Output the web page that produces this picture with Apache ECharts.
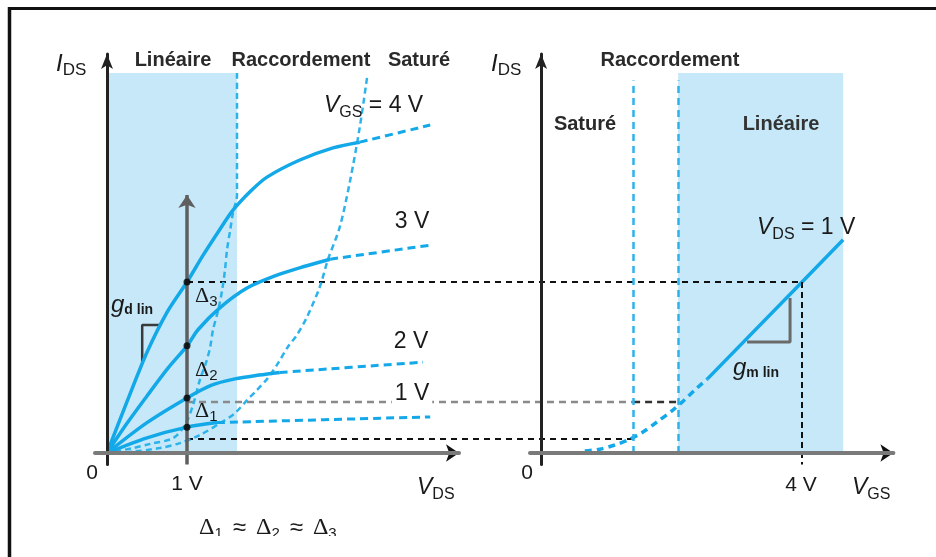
<!DOCTYPE html>
<html>
<head>
<meta charset="utf-8">
<script src="https://cdn.jsdelivr.net/npm/echarts@6/dist/echarts.min.js"></script>
<style>html,body{margin:0;padding:0;background:#fff}#c{width:936px;height:557px}</style>
</head>
<body>
<div id="c"></div>
<script>
// ---- Output characteristics I_DS(V_DS), one curve per V_GS (V, arbitrary current units)
const vgs4Ohmic = [[0,0],[0.25,1.35],[0.5,2.65],[0.75,3.7],[1,4.5],[1.2,5.2],[1.4,5.85],[1.575,6.39],[1.8,6.9],[2.0,7.26],[2.41,7.71],[2.825,8.03],[3.16,8.18]];
const vgs4Sat   = [[3.16,8.18],[4.04,8.63]];
const vgs3Ohmic = [[0,0],[0.25,0.78],[0.5,1.5],[0.75,2.2],[1,2.82],[1.14,3.25],[1.41,3.82],[1.75,4.34],[2.125,4.68],[2.45,4.9],[2.79,5.1]];
const vgs3Sat   = [[2.79,5.1],[4.04,5.47]];
const vgs2Ohmic = [[0,0],[0.5,0.8],[1,1.45],[1.3,1.78],[1.6,1.95],[1.9,2.05],[2.16,2.12]];
const vgs2Sat   = [[2.16,2.12],[3.95,2.39]];
const vgs1Ohmic = [[0,0],[0.5,0.4],[1,0.68],[1.375,0.8]];
const vgs1Sat   = [[1.375,0.8],[4.04,0.95]];

// Boundary loci between the regions
const ohmicLocus = [[1.625,10],[1.625,6.79],[1.575,6.32],[1.54,5.87],[1.5,5.34],[1.475,4.82],[1.44,4.29],[1.39,3.76],[1.325,3.24],[1.29,2.79],[1.24,2.39],[1.16,1.92],[1.075,1.26],[0.975,0.74],[0.825,0.39],[0.54,0.24],[0.325,0.13],[0,0]];
const satLocus   = [[3.25,9.87],[3.16,8.58],[3.04,7.18],[2.91,5.95],[2.76,5.08],[2.66,4.37],[2.5,3.58],[2.375,3.11],[2.26,2.79],[2.14,2.37],[2.01,1.97],[1.875,1.66],[1.75,1.39],[1.6,1.05],[1.44,0.82],[1.16,0.47],[0.91,0.26],[0.66,0.13],[0.29,0.03],[0,0]];

// Currents read at V_DS = 1 V
const dotsAt1V = [4.5, 2.82, 1.45, 0.68];

// ---- Transfer characteristic I_DS(V_GS) at V_DS = 1 V
const transferSub = [[0.67,0.05],[0.9,0.1],[1.13,0.21],[1.33,0.34],[1.56,0.55],[1.78,0.82],[2.02,1.13],[2.18,1.37],[2.39,1.71],[2.55,1.95]];
const transferLin = [[2.55,1.95],[4.0,4.5],[4.63,5.61]];

// Region limits and reference levels
const ohmicEdge = 1.625;        // V_DS
const satEdge = 1.41;           // V_GS
const linEdge = 2.10;           // V_GS
const linEnd = 4.63;            // V_GS
const zoneTop = 10;
const levelTop = 4.5, levelMid = 1.34, levelLow = 0.37;

const BLUE = '#13a9e9';
const LOCUS = '#2db3ec';
const SHADE = '#c6e8f8';
const FONT = '"Liberation Sans", Arial, Helvetica, sans-serif';
const SERIF = '"Liberation Serif", "Times New Roman", serif';

function axis(min, max, grid, extra) {
  return Object.assign({
    type: 'value', gridIndex: grid, min, max, z: 5,
    axisTick: {show: false}, axisLabel: {show: false}, splitLine: {show: false}
  }, extra);
}
const xLine = {onZero: true, lineStyle: {color: '#7a7a7a', width: 4}};
const yLine = {onZero: true, symbol: ['none', 'arrow'], symbolSize: [9, 15], lineStyle: {color: '#222', width: 3}};

function curve(data, dashed, g, color, width, dash) {
  return {
    type: 'line', xAxisIndex: g, yAxisIndex: g, data, symbol: 'none', showSymbol: false,
    smooth: 0.3, z: 4, silent: true, animation: false,
    lineStyle: {color: color || BLUE, width: width || (dashed ? 3 : 3.5), type: dashed ? (dash || [8, 5]) : 'solid'}
  };
}
function ml(data, color, width, type, symbol, z) {
  return {
    type: 'line', xAxisIndex: data.g, yAxisIndex: data.g, data: [], z: z || 3, silent: true,
    markLine: {
      silent: true, animation: false, symbol: symbol || ['none', 'none'], symbolSize: 13,
      label: {show: false}, emphasis: {disabled: true},
      lineStyle: {color, width, type, opacity: 1},
      data: data.lines.map(l => [{coord: l[0]}, {coord: l[1]}])
    }
  };
}

const option = {
  animation: false,
  backgroundColor: '#fff',
  grid: [
    {left: 95, top: 54, width: 364, height: 410.4},
    {left: 530, top: 54, width: 363.4, height: 410.4}
  ],
  xAxis: [axis(-0.15, 4.4, 0, {axisLine: xLine}), axis(-0.17, 5.4, 1, {axisLine: xLine})],
  yAxis: [axis(-0.3, 10.5, 0, {axisLine: yLine}), axis(-0.3, 10.5, 1, {axisLine: yLine})],
  series: [
    // shaded linear regions
    {type: 'line', xAxisIndex: 0, yAxisIndex: 0, data: [], z: 1, silent: true,
     markArea: {silent: true, itemStyle: {color: SHADE}, data: [[{coord: [0, 0]}, {coord: [ohmicEdge, zoneTop]}]]}},
    {type: 'line', xAxisIndex: 1, yAxisIndex: 1, data: [], z: 1, silent: true,
     markArea: {silent: true, itemStyle: {color: SHADE}, data: [[{coord: [linEdge, 0]}, {coord: [linEnd, zoneTop]}]]}},
    // region limits on the transfer plot
    ml({g: 1, lines: [[[satEdge, 0], [satEdge, 9.8]], [[linEdge, 0], [linEdge, 9.8]]]}, LOCUS, 2.5, [7, 5]),
    // V_GS = 4 V drop line
    ml({g: 1, lines: [[[4, levelTop], [4, -0.3]]]}, '#111', 2, [6, 4]),
    // loci
    curve(ohmicLocus, true, 0, LOCUS, 2.5, [6, 4]),
    curve(satLocus, true, 0, LOCUS, 2.5, [6, 4]),
    // output curves
    curve(vgs4Ohmic, false, 0), curve(vgs4Sat, true, 0),
    curve(vgs3Ohmic, false, 0), curve(vgs3Sat, true, 0),
    curve(vgs2Ohmic, false, 0), curve(vgs2Sat, true, 0),
    curve(vgs1Ohmic, false, 0), curve(vgs1Sat, true, 0),
    // transfer curve
    curve(transferSub, true, 1, BLUE, 3.5, [7, 5]),
    Object.assign(curve(transferLin, false, 1), {smooth: false}),
    // secondary axis at V_DS = 1 V
    ml({g: 0, lines: [[[1, -0.3], [1, 6.79]]]}, '#5f5f5f', 3.5, 'solid', ['none', 'arrow'], 5),
    // x-axis arrow heads
    ml({g: 0, lines: [[[4.2, 0], [4.4, 0]]]}, '#111', 4, 'solid', ['none', 'arrow'], 6),
    ml({g: 1, lines: [[[5.2, 0], [5.4, 0]]]}, '#111', 4, 'solid', ['none', 'arrow'], 6),
    // slope triangles
    {type: 'line', xAxisIndex: 0, yAxisIndex: 0, data: [[0.44, 2.39], [0.44, 3.37], [0.66, 3.37]],
     symbol: 'none', z: 3, silent: true, lineStyle: {color: '#3a3a3a', width: 2.5}},
    {type: 'line', xAxisIndex: 1, yAxisIndex: 1, data: [[3.157, 2.92], [3.816, 2.92], [3.816, 4.08]],
     symbol: 'none', z: 3, silent: true, lineStyle: {color: '#6a6a6a', width: 3}},
    // measurement points
    {type: 'scatter', xAxisIndex: 0, yAxisIndex: 0, data: dotsAt1V.map(v => [1, v]),
     symbolSize: 7, z: 7, silent: true, itemStyle: {color: '#000'}}
  ]
};

const chart = echarts.init(document.getElementById('c'));
chart.setOption(option);

const P = (g, pt) => chart.convertToPixel({gridIndex: g}, pt);
function seg(p, q, stroke, dash, w) {
  return {type: 'line', z: 1, silent: true,
    shape: {x1: p[0], y1: p[1], x2: q[0], y2: q[1]},
    style: {stroke, lineWidth: w || 2, lineDash: dash}};
}
function txt(x, y, text, rich, st) {
  return {type: 'text', x, y, z: 30, silent: true,
    style: Object.assign({text, rich: rich || {}, fill: '#1a1a1a', font: '22px ' + FONT,
      align: 'left', verticalAlign: 'middle', textAlign: 'left', textVerticalAlign: 'middle'}, st || {})};
}
const subRich = (main, sub, pad) => ({
  i: {fontSize: main, fontStyle: 'italic', fontFamily: FONT},
  n: {fontSize: main, fontFamily: FONT},
  a: {fontSize: main, fontFamily: FONT, padding: [0, 10, 0, 10]},
  d: {fontSize: main, fontFamily: SERIF},
  s: {fontSize: sub, fontFamily: FONT, padding: [pad, 0, 0, 0]},
  b: {fontSize: sub, fontFamily: FONT, fontWeight: 'bold', padding: [pad, 0, 0, 0]}
});
const title = (x, y, t, fill) => txt(x, y, t, null,
  {font: 'bold 20px ' + FONT, align: 'center', textAlign: 'center', fill: fill || '#2a2a2a'});
const center = (x, y, t, size) => txt(x, y, t, null,
  {font: (size || 22) + 'px ' + FONT, align: 'center', textAlign: 'center'});

const graphics = [
  // frame
  {type: 'line', z: 40, shape: {x1: 8, y1: 8.5, x2: 936, y2: 8.5}, style: {stroke: '#111', lineWidth: 3}},
  {type: 'line', z: 40, shape: {x1: 9.5, y1: 7, x2: 9.5, y2: 557}, style: {stroke: '#111', lineWidth: 3.5}},
  // level lines carried across to the transfer plot
  seg(P(0, [1, levelTop]), P(1, [4, levelTop]), '#111', [6, 5]),
  seg(P(0, [1, levelMid]), P(1, [satEdge, levelMid]), '#8a8a8a', [7, 5], 2.5),
  seg(P(1, [satEdge, levelMid]), P(1, [linEdge, levelMid]), '#333', [7, 5], 2.5),
  seg(P(0, [1, levelLow]), P(1, [satEdge, levelLow]), '#111', [6, 5]),

  // left plot texts
  txt(56, 64, '{i|I}{s|DS}', subRich(24, 17, 13)),
  title(173, 60, 'Linéaire'),
  title(301, 60, 'Raccordement'),
  title(419, 60, 'Saturé'),
  txt(324, 106, '{i|V}{s|GS}{n| = 4 V}', subRich(23, 16, 14)),
  center(412, 222, '3 V', 23),
  center(411, 342, '2 V', 23),
  txt(412, 394, '1 V', null, {font: '23px ' + FONT, align: 'center', textAlign: 'center',
    backgroundColor: '#fff', padding: [0, 3, 0, 3]}),
  txt(111, 305, '{i|g}{b|d lin}', subRich(24, 14, 10)),
  txt(195, 296, '{d|Δ}{s|3}', subRich(22, 15, 12)),
  txt(195, 370, '{d|Δ}{s|2}', subRich(22, 15, 12)),
  txt(195, 411, '{d|Δ}{s|1}', subRich(22, 15, 12)),
  center(92, 473, '0', 21),
  center(187, 484, '1 V', 21),
  txt(417, 488, '{i|V}{s|DS}', subRich(23, 16, 13)),
  txt(199, 528, '{d|Δ}{s|1}{a|≈}{d|Δ}{s|2}{a|≈}{d|Δ}{s|3}', subRich(24, 15, 12)),
  {type: 'rect', z: 35, shape: {x: 12, y: 536, width: 924, height: 21}, style: {fill: '#fff'}},

  // right plot texts
  txt(491, 64, '{i|I}{s|DS}', subRich(24, 17, 13)),
  title(670, 60, 'Raccordement'),
  title(585, 124, 'Saturé'),
  title(781, 124, 'Linéaire', '#333'),
  txt(757, 228, '{i|V}{s|DS}{n| = 1 V}', subRich(23, 16, 14)),
  txt(733, 368, '{i|g}{b|m lin}', subRich(24, 14, 10)),
  center(527, 473, '0', 21),
  center(801, 485, '4 V', 21),
  txt(852, 488, '{i|V}{s|GS}', subRich(23, 16, 13))
];
chart.setOption({graphic: graphics});
</script>
</body>
</html>
